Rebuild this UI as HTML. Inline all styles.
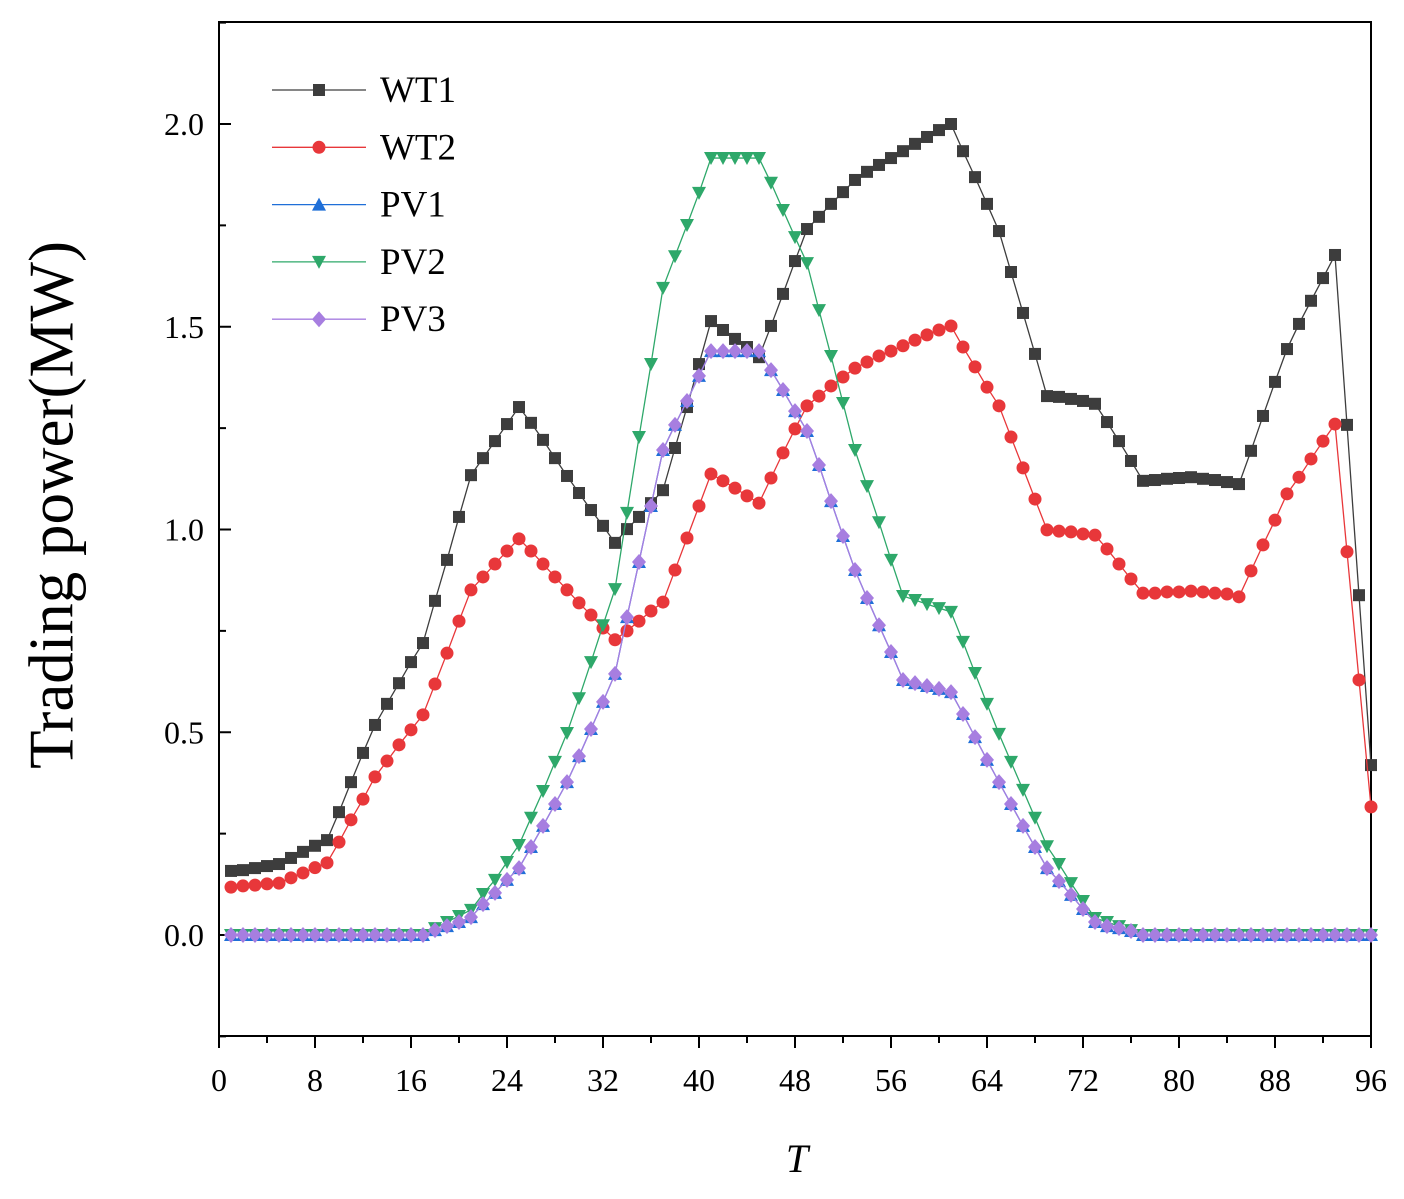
<!DOCTYPE html>
<html><head><meta charset="utf-8"><style>
body{margin:0;background:#fff;}
svg text{font-family:"Liberation Serif",serif;}
</style></head><body>
<svg id="chart" width="1404" height="1194" xmlns="http://www.w3.org/2000/svg">
<rect x="219" y="22" width="1152" height="1014" fill="none" stroke="#000" stroke-width="2"/>
<g id="ticks"></g><g id="series"></g><g id="legend"></g>
<text x="58" y="505" font-size="63" text-anchor="middle" transform="rotate(-90 58 505)" dominant-baseline="middle">Trading power(MW)</text>
<text x="797" y="1172" font-size="40" font-style="italic" text-anchor="middle">T</text>
</svg>
<script>
const wt1=[.158,.160,.165,.170,.175,.19,.205,.22,.234,.303,.377,.449,.518,.57,.621,.673,.72,.824,.925,1.031,1.134,1.176,1.218,1.26,1.302,1.263,1.221,1.176,1.132,1.09,1.048,1.009,.967,1.001,1.031,1.065,1.097,1.201,1.302,1.408,1.514,1.492,1.47,1.45,1.425,1.502,1.581,1.662,1.741,1.771,1.803,1.832,1.862,1.882,1.899,1.916,1.933,1.951,1.968,1.985,2.0,1.933,1.869,1.803,1.736,1.635,1.534,1.433,1.329,1.327,1.322,1.317,1.31,1.265,1.218,1.169,1.12,1.122,1.125,1.127,1.129,1.125,1.122,1.117,1.112,1.194,1.28,1.364,1.445,1.507,1.564,1.62,1.677,1.258,.838,.419];
const wt2=[.118,.121,.123,.126,.128,.141,.153,.166,.178,.229,.284,.335,.39,.429,.469,.506,.543,.619,.695,.774,.851,.883,.915,.947,.977,.947,.915,.883,.851,.819,.789,.757,.728,.75,.774,.799,.821,.9,.979,1.058,1.137,1.12,1.102,1.083,1.065,1.127,1.189,1.248,1.305,1.329,1.354,1.376,1.398,1.413,1.428,1.44,1.453,1.467,1.48,1.492,1.502,1.45,1.401,1.351,1.305,1.228,1.152,1.075,.999,.996,.994,.989,.986,.952,.915,.878,.843,.843,.846,.846,.848,.846,.843,.841,.834,.898,.962,1.023,1.088,1.129,1.174,1.218,1.26,.945,.629,.316];
const pv2=[0,0,0,0,0,0,0,0,0,0,0,0,0,0,0,0,0,.017,.032,.047,.062,.101,.136,.18,.222,.289,.355,.427,.498,.584,.673,.764,.853,1.041,1.228,1.408,1.596,1.674,1.751,1.83,1.916,1.916,1.916,1.916,1.916,1.855,1.788,1.721,1.657,1.541,1.428,1.312,1.196,1.107,1.018,.925,.836,.826,.816,.806,.797,.723,.646,.57,.496,.427,.358,.289,.219,.175,.128,.084,.042,.032,.022,.012,0,0,0,0,0,0,0,0,0,0,0,0,0,0,0,0,0,0,0,0];
const pv1=[0,0,0,0,0,0,0,0,0,0,0,0,0,0,0,0,0,.012,.022,.032,.044,.076,.104,.136,.165,.217,.269,.323,.377,.441,.508,.575,.644,.784,.92,1.058,1.196,1.258,1.317,1.379,1.44,1.44,1.44,1.44,1.44,1.393,1.344,1.292,1.243,1.159,1.07,.984,.9,.831,.764,.698,.629,.621,.614,.607,.599,.545,.488,.432,.377,.323,.269,.217,.165,.133,.099,.064,.032,.022,.017,.01,0,0,0,0,0,0,0,0,0,0,0,0,0,0,0,0,0,0,0,0];
const pv3=[0,0,0,0,0,0,0,0,0,0,0,0,0,0,0,0,0,.012,.022,.032,.044,.076,.104,.136,.165,.217,.269,.323,.377,.441,.508,.575,.644,.784,.92,1.058,1.196,1.258,1.317,1.379,1.44,1.44,1.44,1.44,1.44,1.393,1.344,1.292,1.243,1.159,1.07,.984,.9,.831,.764,.698,.629,.621,.614,.607,.599,.545,.488,.432,.377,.323,.269,.217,.165,.133,.099,.064,.032,.022,.017,.01,0,0,0,0,0,0,0,0,0,0,0,0,0,0,0,0,0,0,0,0];
const xTicks=[0,8,16,24,32,40,48,56,64,72,80,88,96];
const yTicks=[0.0,0.5,1.0,1.5,2.0];
const seriesNames=["WT1","WT2","PV1","PV2","PV3"];

const NS="http://www.w3.org/2000/svg";
const X=v=>219+v*12, Y=v=>935-v*405.5;
function mk(tag,attrs,parent){const e=document.createElementNS(NS,tag);for(const k in attrs)e.setAttribute(k,attrs[k]);parent.appendChild(e);return e;}
const tg=document.getElementById('ticks');
for(let v=0;v<=96;v+=4){const major=v%8===0;
 const t=mk('line',{x1:X(v),x2:X(v),y1:1036,y2:major?1048:1043,stroke:'#000','stroke-width':2},tg);
 
 }
xTicks.forEach(v=>{const t=mk('text',{x:X(v),y:1091,'font-size':32,'text-anchor':'middle'},tg);t.textContent=v;
 
 });
for(let v=-0.25;v<=2.25;v+=0.25){const major=Math.abs(v*2-Math.round(v*2))<1e-6;
 const t=mk('line',{x1:219,x2:major?231:226,y1:Y(v),y2:Y(v),stroke:'#000','stroke-width':2},tg);
 
 }
yTicks.forEach(v=>{const t=mk('text',{x:204,y:Y(v)+11,'font-size':32,'text-anchor':'end'},tg);t.textContent=v.toFixed(1);
 
 });

const colors=['#3d3d3d','#e8373a','#1f6fd8','#2ea86a','#a77ee0'];
const shapes=['sq','ci','tu','td','di'];
function marker(g,s,x,y,c){
 if(s==='sq')return mk('rect',{x:x-6,y:y-6,width:12,height:12,fill:c},g);
 if(s==='ci')return mk('circle',{cx:x,cy:y,r:6.5,fill:c},g);
 if(s==='tu')return mk('polygon',{points:`${x},${y-7} ${x-7},${y+6} ${x+7},${y+6}`,fill:c},g);
 if(s==='td')return mk('polygon',{points:`${x},${y+7} ${x-7},${y-6} ${x+7},${y-6}`,fill:c},g);
 return mk('polygon',{points:`${x},${y-8} ${x+7},${y} ${x},${y+8} ${x-7},${y}`,fill:c},g);
}
const sg=document.getElementById('series');
[wt1,wt2,pv1,pv2,pv3].forEach((d,i)=>{
 const g=mk('g',{},sg);
 
 
 const pl=mk('polyline',{points:d.map((v,j)=>X(j+1)+','+Y(v)).join(' '),fill:'none',stroke:colors[i],'stroke-width':1.3},g);
 
 
 d.forEach((v,j)=>{const m=marker(g,shapes[i],X(j+1),Y(v),colors[i]);
  
  });
});
const lg=document.getElementById('legend');
seriesNames.forEach((n,i)=>{const y=90+i*57.3;
 const g=mk('g',{},lg);
 
 
 mk('line',{x1:272,x2:366,y1:y,y2:y,stroke:colors[i],'stroke-width':1.3},g);
 marker(g,shapes[i],319,y,colors[i]);
 const t=mk('text',{x:380,y:y+12,'font-size':37},g);t.textContent=n;
});
</script>
</body></html>
